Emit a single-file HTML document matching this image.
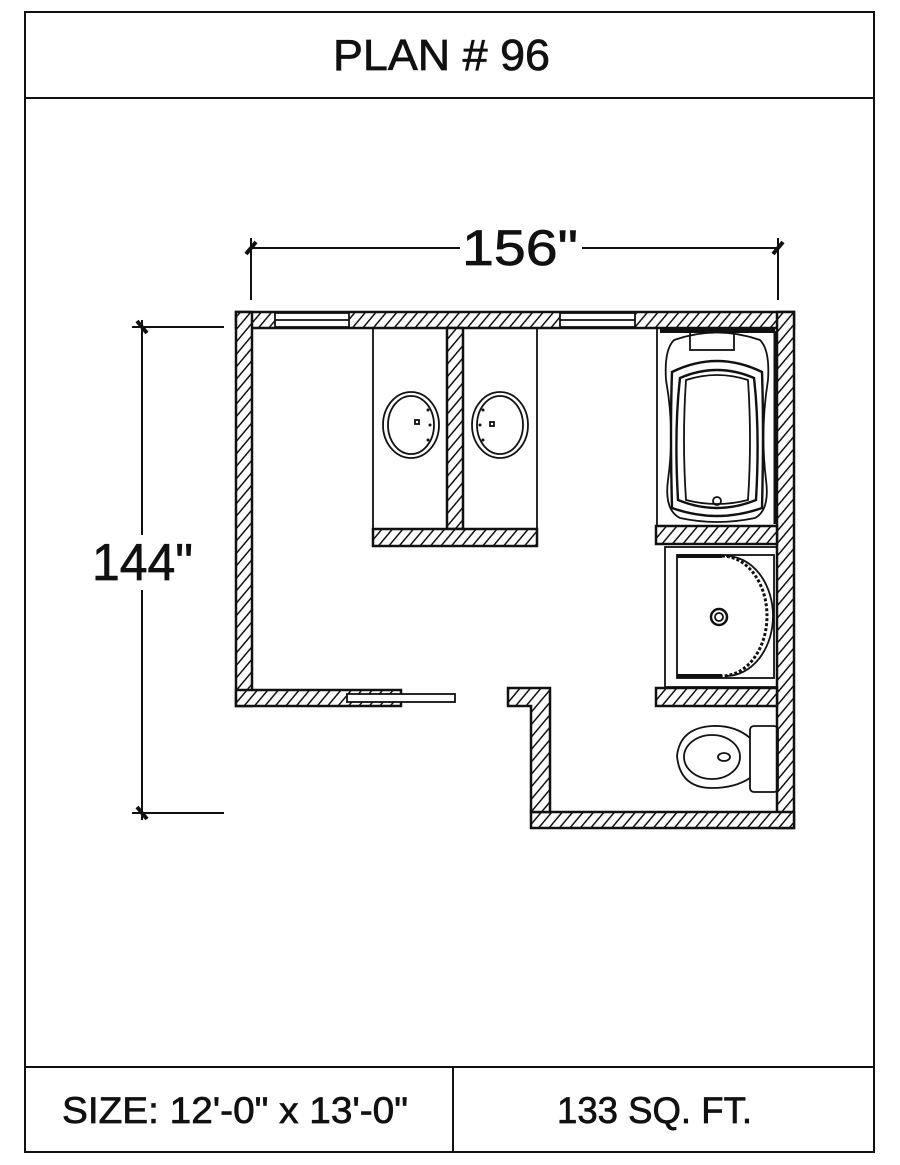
<!DOCTYPE html>
<html><head><meta charset="utf-8"><style>
html,body{margin:0;padding:0;background:#fff;}
svg{display:block;}
text{font-family:"Liberation Sans",sans-serif;fill:#111;stroke:#111;stroke-width:0.7;}
</style></head><body>
<svg width="900" height="1165" viewBox="0 0 900 1165" xmlns="http://www.w3.org/2000/svg">
<defs>
<pattern id="h" patternUnits="userSpaceOnUse" width="8" height="8" patternTransform="rotate(40)">
<rect width="8" height="8" fill="#fff"/>
<line x1="0" y1="0" x2="0" y2="8" stroke="#111" stroke-width="3"/>
</pattern>
</defs>
<rect x="0" y="0" width="900" height="1165" fill="#fff"/>
<rect x="25" y="12" width="849" height="1140" fill="none" stroke="#111" stroke-width="2"/>
<line x1="25" y1="98" x2="874" y2="98" stroke="#111" stroke-width="2"/>
<line x1="25" y1="1067" x2="874" y2="1067" stroke="#111" stroke-width="2"/>
<line x1="453" y1="1067" x2="453" y2="1152" stroke="#111" stroke-width="2"/>
<text x="333" y="70" font-size="44" textLength="217" lengthAdjust="spacingAndGlyphs">PLAN # 96</text>
<text x="62" y="1123" font-size="37" textLength="346" lengthAdjust="spacingAndGlyphs">SIZE: 12'-0" x 13'-0"</text>
<text x="557" y="1123" font-size="37" textLength="195" lengthAdjust="spacingAndGlyphs">133 SQ. FT.</text>

<g stroke="#111" stroke-width="2">
<line x1="251" y1="248" x2="460" y2="248"/>
<line x1="582" y1="248" x2="778" y2="248"/>
<line x1="251" y1="238" x2="251" y2="300"/>
<line x1="778" y1="238" x2="778" y2="300"/>
<line x1="246" y1="254" x2="256" y2="242" stroke-width="4"/>
<line x1="773" y1="254" x2="783" y2="242" stroke-width="4"/>
<line x1="132" y1="327" x2="224" y2="327"/>
<line x1="132" y1="813" x2="224" y2="813"/>
<line x1="142" y1="320" x2="142" y2="535"/>
<line x1="142" y1="590" x2="142" y2="820"/>
<line x1="137" y1="321" x2="147" y2="333" stroke-width="4"/>
<line x1="137" y1="807" x2="147" y2="819" stroke-width="4"/>
</g>
<text x="462" y="265" font-size="50" textLength="116" lengthAdjust="spacingAndGlyphs">156"</text>
<text x="92" y="580" font-size="52" textLength="101" lengthAdjust="spacingAndGlyphs">144"</text>

<g fill="url(#h)" stroke="#111" stroke-width="2.5">
<rect x="236" y="312" width="558" height="16"/>
<rect x="236" y="312" width="16" height="394"/>
<rect x="236" y="690" width="165" height="16"/>
<rect x="777" y="312" width="17" height="516"/>
<rect x="531" y="812" width="263" height="16"/>
<polygon points="508,688 550,688 550,812 531,812 531,706 508,706"/>
<rect x="447" y="328" width="16" height="201"/>
<rect x="373" y="529" width="164" height="17"/>
<rect x="656" y="526" width="121" height="18"/>
<rect x="656" y="688" width="121" height="18"/>
</g>
<g fill="#fff" stroke="#111" stroke-width="1.8">
<rect x="275" y="313" width="74" height="14"/>
<line x1="275" y1="320" x2="349" y2="320"/>
<rect x="560" y="313" width="75" height="14"/>
<line x1="560" y1="320" x2="635" y2="320"/>
</g>
<rect x="347" y="694" width="108" height="8" fill="#fff" stroke="#111" stroke-width="1.8"/>

<g fill="none" stroke="#111" stroke-width="1.8">
<rect x="373" y="328" width="74" height="201"/>
<rect x="463" y="328" width="74" height="201"/>
<ellipse cx="411" cy="425" rx="28" ry="33"/>
<ellipse cx="411" cy="425" rx="23" ry="29"/>
<ellipse cx="500" cy="425" rx="28" ry="33"/>
<ellipse cx="500" cy="425" rx="23" ry="29"/>
<rect x="415" y="420" width="4" height="4"/>
<rect x="490" y="422" width="4" height="4"/>
</g>
<g fill="#111"><circle cx="428" cy="410" r="1.5"/><circle cx="430" cy="425" r="1.5"/><circle cx="428" cy="440" r="1.5"/>
<circle cx="483" cy="410" r="1.5"/><circle cx="480" cy="425" r="1.5"/><circle cx="483" cy="440" r="1.5"/></g>

<g fill="none" stroke="#111" stroke-width="1.8">
<rect x="657" y="328" width="120" height="198"/>
<line x1="660" y1="331" x2="775" y2="331" stroke-width="4"/>
<line x1="775" y1="331" x2="775" y2="524" stroke-width="3"/>
<path d="M674,340 Q717,325 760,340 Q770,350 768,380 Q760,430 766,480 Q770,510 755,518 Q717,526 680,518 Q664,510 668,480 Q675,430 666,380 Q664,350 674,340 Z"/>
<path d="M672,372 Q717,350 762,372 Q764,430 762,508 Q717,524 672,508 Q670,430 672,372 Z" stroke-width="2.4"/>
<path d="M680,378 Q717,362 754,378 Q760,430 756,500 Q717,516 678,500 Q674,430 680,378 Z" stroke-width="2.4"/>
<path d="M686,380 Q717,370 748,380 Q752,440 748,500 Q717,508 686,500 Q682,440 686,380 Z"/>
<rect x="690" y="328" width="44" height="22"/>
<circle cx="717" cy="501" r="4"/>
</g>

<g fill="none" stroke="#111" stroke-width="1.8">
<rect x="665" y="547" width="112" height="140"/>
<rect x="677" y="555" width="97" height="123"/>
<line x1="677" y1="556" x2="722" y2="556" stroke-width="4"/>
<line x1="677" y1="676" x2="722" y2="676" stroke-width="4"/>
<path d="M722,556 A45,60 0 0 1 722,676" stroke-width="3" stroke-dasharray="3,2"/>
<path d="M726,556 A47,60 0 0 1 726,676"/>
<circle cx="719" cy="617" r="8" stroke-width="2.5"/>
<circle cx="719" cy="617" r="4"/>
</g>

<g fill="none" stroke="#111" stroke-width="1.8">
<rect x="750" y="726" width="28" height="66" rx="4"/>
<path d="M750,738 Q735,725 712,726 Q680,728 677,756 Q680,788 712,788 Q735,788 750,778"/>
<ellipse cx="712" cy="757" rx="28" ry="22"/>
<ellipse cx="724" cy="757" rx="6" ry="4"/>
</g>
</svg>
</body></html>
